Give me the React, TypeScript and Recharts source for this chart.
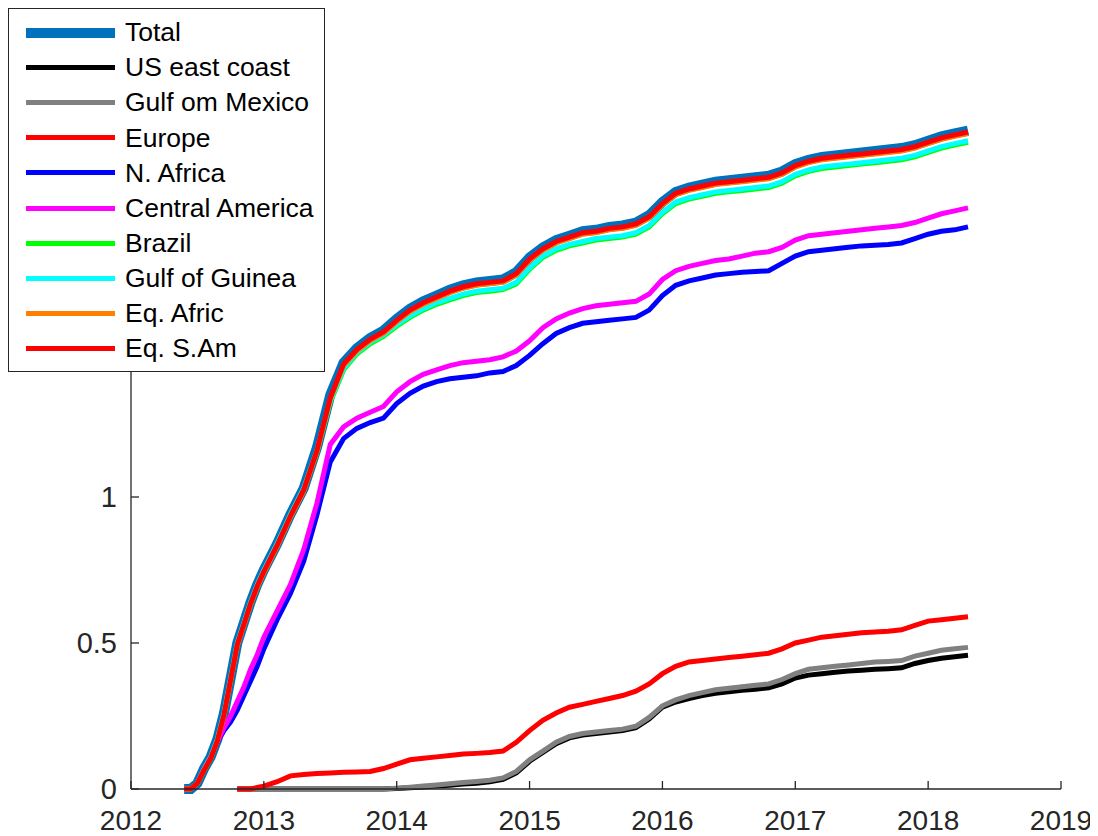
import { LineChart, Line, XAxis, YAxis, Legend } from 'recharts';

const AXIS = '#262626';
const FONT = '"Liberation Sans", Arial, Helvetica, sans-serif';

const years = [
  2012.4, 2012.45, 2012.5, 2012.55, 2012.6, 2012.65, 2012.7, 2012.75, 2012.8, 2012.85, 2012.9, 2012.95, 2013.0,
  2013.1, 2013.2, 2013.3, 2013.4, 2013.5, 2013.6, 2013.7, 2013.8, 2013.9, 2014.0,
  2014.1, 2014.2, 2014.3, 2014.4, 2014.5, 2014.6, 2014.7, 2014.8, 2014.9, 2015.0,
  2015.1, 2015.2, 2015.3, 2015.4, 2015.5, 2015.6, 2015.7, 2015.8, 2015.9, 2016.0,
  2016.1, 2016.2, 2016.3, 2016.4, 2016.5, 2016.6, 2016.7, 2016.8, 2016.9, 2017.0,
  2017.1, 2017.2, 2017.3, 2017.4, 2017.5, 2017.6, 2017.7, 2017.8, 2017.9, 2018.0,
  2018.1, 2018.2, 2018.3,
];

const total = [
  0, 0, 0.02, 0.07, 0.11, 0.17, 0.26, 0.38, 0.5, 0.57, 0.64, 0.7, 0.75,
  0.84, 0.94, 1.03, 1.17, 1.35, 1.46, 1.51, 1.545, 1.57, 1.61,
  1.645, 1.67, 1.69, 1.71, 1.725, 1.735, 1.74, 1.745, 1.77, 1.82,
  1.855, 1.88, 1.895, 1.91, 1.915, 1.925, 1.93, 1.94, 1.965, 2.01,
  2.045, 2.06, 2.07, 2.08, 2.085, 2.09, 2.095, 2.1, 2.115, 2.14,
  2.155, 2.165, 2.17, 2.175, 2.18, 2.185, 2.19, 2.195, 2.205, 2.22,
  2.235, 2.245, 2.255,
];

const usEastCoast = [
  null, null, null, null, null, null, null, null, 0, 0, 0, 0, 0,
  0, 0, 0, 0, 0, 0, 0, 0, 0, 0.002,
  0.004, 0.007, 0.01, 0.013, 0.017, 0.02, 0.025, 0.033, 0.055, 0.095,
  0.125, 0.155, 0.175, 0.185, 0.19, 0.195, 0.2, 0.21, 0.24, 0.28,
  0.298, 0.31, 0.32, 0.328, 0.333, 0.338, 0.342, 0.347, 0.36, 0.38,
  0.39, 0.395, 0.4, 0.404, 0.407, 0.41, 0.412, 0.415, 0.43, 0.44,
  0.448, 0.453, 0.458,
];

const gulfMexico = [
  null, null, null, null, null, null, null, null, 0, 0, 0, 0, 0,
  0, 0, 0, 0, 0, 0, 0, 0, 0, 0.003,
  0.006, 0.01, 0.014, 0.018, 0.022, 0.026, 0.03, 0.038, 0.06, 0.1,
  0.13, 0.16, 0.18, 0.19, 0.195, 0.2, 0.205, 0.215, 0.245, 0.285,
  0.305, 0.32, 0.33, 0.34, 0.345, 0.35, 0.355, 0.36, 0.375, 0.395,
  0.41, 0.415, 0.42, 0.425, 0.43, 0.435, 0.437, 0.44, 0.455, 0.465,
  0.475, 0.48, 0.485,
];

const europe = [
  null, null, null, null, null, null, null, null, 0, 0, 0, 0.005, 0.01,
  0.025, 0.045, 0.05, 0.053, 0.055, 0.057, 0.058, 0.06, 0.07, 0.085,
  0.1, 0.105, 0.11, 0.115, 0.12, 0.122, 0.125, 0.13, 0.16, 0.2,
  0.235, 0.26, 0.28, 0.29, 0.3, 0.31, 0.32, 0.335, 0.36, 0.395,
  0.42, 0.435, 0.44, 0.445, 0.45, 0.455, 0.46, 0.465, 0.48, 0.5,
  0.51, 0.52, 0.525, 0.53, 0.535, 0.538, 0.54, 0.545, 0.56, 0.575,
  0.58, 0.585, 0.59,
];

const nAfrica = [
  0, 0, 0.02, 0.07, 0.11, 0.16, 0.2, 0.23, 0.27, 0.32, 0.37, 0.42, 0.48,
  0.58, 0.67, 0.78, 0.94, 1.12, 1.2, 1.235, 1.255, 1.27, 1.32,
  1.355, 1.38, 1.395, 1.405, 1.41, 1.415, 1.425, 1.43, 1.45, 1.485,
  1.525, 1.56, 1.58, 1.595, 1.6, 1.605, 1.61, 1.615, 1.64, 1.69,
  1.725, 1.74, 1.75, 1.76, 1.765, 1.77, 1.772, 1.775, 1.8, 1.825,
  1.84, 1.845, 1.85, 1.855, 1.86, 1.862, 1.865, 1.87, 1.885, 1.9,
  1.91, 1.915, 1.925,
];

const centralAmerica = [
  0, 0, 0.02, 0.07, 0.11, 0.16, 0.21, 0.25, 0.3, 0.35, 0.41, 0.46, 0.52,
  0.61, 0.7, 0.82, 0.98, 1.18, 1.24, 1.27, 1.29, 1.31, 1.36,
  1.395, 1.42, 1.435, 1.45, 1.46, 1.465, 1.47, 1.48, 1.5, 1.535,
  1.58, 1.61, 1.63, 1.645, 1.655, 1.66, 1.665, 1.67, 1.695, 1.745,
  1.775, 1.79, 1.8, 1.81, 1.815, 1.825, 1.835, 1.84, 1.855, 1.88,
  1.895, 1.9, 1.905, 1.91, 1.915, 1.92, 1.925, 1.93, 1.94, 1.955,
  1.97, 1.98, 1.99,
];

const brazil = [
  0, 0, 0.02, 0.065, 0.105, 0.165, 0.255, 0.375, 0.495, 0.565, 0.635, 0.695, 0.745,
  0.835, 0.935, 1.025, 1.155, 1.325, 1.435, 1.49, 1.525, 1.55, 1.585,
  1.615, 1.64, 1.66, 1.675, 1.69, 1.7, 1.705, 1.71, 1.73, 1.78,
  1.82, 1.845, 1.86, 1.87, 1.88, 1.885, 1.89, 1.9, 1.925, 1.97,
  2.005, 2.02, 2.03, 2.04, 2.045, 2.05, 2.055, 2.06, 2.075, 2.1,
  2.115, 2.125, 2.13, 2.135, 2.14, 2.145, 2.15, 2.155, 2.165, 2.18,
  2.195, 2.205, 2.215,
];

const gulfGuinea = [
  0, 0, 0.02, 0.07, 0.11, 0.17, 0.26, 0.38, 0.5, 0.57, 0.64, 0.7, 0.75,
  0.84, 0.94, 1.03, 1.16, 1.33, 1.44, 1.495, 1.53, 1.555, 1.59,
  1.62, 1.645, 1.665, 1.68, 1.695, 1.705, 1.71, 1.715, 1.735, 1.785,
  1.825, 1.85, 1.865, 1.875, 1.885, 1.89, 1.895, 1.905, 1.93, 1.975,
  2.01, 2.025, 2.035, 2.045, 2.05, 2.055, 2.06, 2.065, 2.08, 2.105,
  2.12, 2.13, 2.135, 2.14, 2.145, 2.15, 2.155, 2.16, 2.17, 2.185,
  2.2, 2.21, 2.22,
];

const eqAfric = [
  0, 0, 0.02, 0.065, 0.105, 0.165, 0.25, 0.37, 0.49, 0.56, 0.63, 0.69, 0.74,
  0.83, 0.93, 1.02, 1.155, 1.335, 1.45, 1.5, 1.535, 1.56, 1.6,
  1.635, 1.66, 1.68, 1.7, 1.715, 1.725, 1.73, 1.735, 1.76, 1.81,
  1.845, 1.87, 1.885, 1.9, 1.905, 1.915, 1.92, 1.93, 1.955, 2.0,
  2.035, 2.05, 2.06, 2.07, 2.075, 2.08, 2.085, 2.09, 2.105, 2.13,
  2.145, 2.155, 2.16, 2.165, 2.17, 2.175, 2.18, 2.185, 2.195, 2.21,
  2.225, 2.235, 2.245,
];

const eqSAm = [
  0, 0, 0.02, 0.065, 0.105, 0.165, 0.255, 0.375, 0.495, 0.565, 0.635, 0.695, 0.745,
  0.835, 0.935, 1.025, 1.16, 1.34, 1.455, 1.505, 1.54, 1.565, 1.605,
  1.64, 1.665, 1.685, 1.705, 1.72, 1.73, 1.735, 1.74, 1.765, 1.815,
  1.85, 1.875, 1.89, 1.905, 1.91, 1.92, 1.925, 1.935, 1.96, 2.005,
  2.04, 2.055, 2.065, 2.075, 2.08, 2.085, 2.09, 2.095, 2.11, 2.135,
  2.15, 2.16, 2.165, 2.17, 2.175, 2.18, 2.185, 2.19, 2.2, 2.215,
  2.23, 2.24, 2.25,
];

const xTicks = [2012, 2013, 2014, 2015, 2016, 2017, 2018, 2019];
const yTicks = [0, 0.5, 1];

const series = [
  { key: 'total', name: 'Total', color: '#0072BD', width: 10, values: total },
  { key: 'usEastCoast', name: 'US east coast', color: '#000000', width: 5, values: usEastCoast },
  { key: 'gulfMexico', name: 'Gulf om Mexico', color: '#808080', width: 5, values: gulfMexico },
  { key: 'europe', name: 'Europe', color: '#FF0000', width: 5, values: europe },
  { key: 'nAfrica', name: 'N. Africa', color: '#0000FF', width: 5, values: nAfrica },
  { key: 'centralAmerica', name: 'Central America', color: '#FF00FF', width: 5, values: centralAmerica },
  { key: 'brazil', name: 'Brazil', color: '#00FF00', width: 5, values: brazil },
  { key: 'gulfGuinea', name: 'Gulf of Guinea', color: '#00FFFF', width: 5, values: gulfGuinea },
  { key: 'eqAfric', name: 'Eq. Afric', color: '#FF8000', width: 5, values: eqAfric },
  { key: 'eqSAm', name: 'Eq. S.Am', color: '#FF0000', width: 5, values: eqSAm },
];

const rows = years.map((year, i) => {
  const row: Record<string, number | null> = { year };
  series.forEach((s) => {
    row[s.key] = s.values[i];
  });
  return row;
});

// MATLAB-style inward ticks
const XTick = ({ x, y, payload }: any) => (
  <g>
    <line x1={x} y1={y} x2={x} y2={y - 8} stroke={AXIS} strokeWidth={1.3} />
    <text x={x} y={y + 41} textAnchor="middle" fill={AXIS} fontSize={28} fontFamily={FONT}>
      {payload.value}
    </text>
  </g>
);

const YTick = ({ x, y, payload }: any) => (
  <g>
    <line x1={x} y1={y} x2={x + 8} y2={y} stroke={AXIS} strokeWidth={1.3} />
    <text x={x - 14} y={y + 9.5} textAnchor="end" fill={AXIS} fontSize={29} fontFamily={FONT}>
      {payload.value}
    </text>
  </g>
);

const LegendBox = () => (
  <div
    style={{
      width: 317,
      height: 364,
      boxSizing: 'border-box',
      border: `1px solid ${AXIS}`,
      background: '#fff',
      paddingTop: 6,
      fontFamily: FONT,
    }}
  >
    {series.map((s) => (
      <div key={s.key} style={{ height: 35.1, display: 'flex', alignItems: 'center' }}>
        <div style={{ marginLeft: 17, width: 89, height: s.width, background: s.color }} />
        <span style={{ marginLeft: 10, fontSize: 26.5, color: '#000', lineHeight: 1 }}>{s.name}</span>
      </div>
    ))}
  </div>
);

export default function App() {
  return (
    <div style={{ width: 1090, height: 828, fontFamily: FONT }}>
      <LineChart width={1090} height={828} data={rows} margin={{ top: 51, right: 37, bottom: 0, left: 0 }}>
        <XAxis
          dataKey="year"
          type="number"
          domain={[2012, 2019]}
          ticks={xTicks}
          interval={0}
          height={47}
          tickSize={0}
          tickMargin={0}
          tickLine={false}
          axisLine={{ stroke: AXIS, strokeWidth: 1.3 }}
          tick={XTick}
        />
        <YAxis
          type="number"
          domain={[0, 2.5]}
          ticks={yTicks}
          interval={0}
          width={123}
          tickSize={0}
          tickMargin={0}
          tickLine={false}
          axisLine={{ stroke: AXIS, strokeWidth: 1.3 }}
          tick={YTick}
        />
        {series.map((s) => (
          <Line
            key={s.key}
            dataKey={s.key}
            name={s.name}
            stroke={s.color}
            strokeWidth={s.width}
            dot={false}
            activeDot={false}
            type="linear"
            isAnimationActive={false}
          />
        ))}
        <Legend
          layout="vertical"
          align="center"
          verticalAlign="middle"
          wrapperStyle={{ left: 0, top: 0, width: 317, height: 364 }}
          content={() => <LegendBox />}
        />
      </LineChart>
    </div>
  );
}
